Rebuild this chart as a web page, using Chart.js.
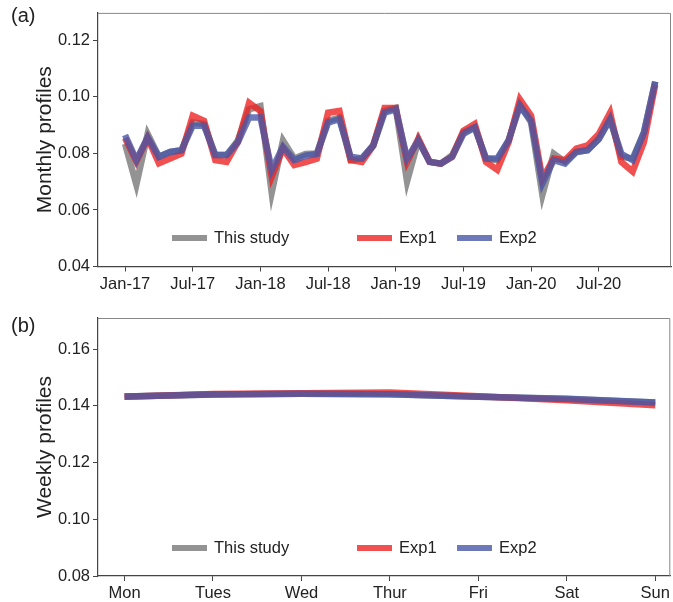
<!DOCTYPE html>
<html>
<head>
<meta charset="utf-8">
<script src="https://cdn.jsdelivr.net/npm/chart.js@4.4.1/dist/chart.umd.min.js"></script>
<style>
  body { margin: 0; background: #fff; font-family: "Liberation Sans", Arial, sans-serif; }
  #wrap { position: relative; width: 673px; height: 602px; }
  .panel { position: absolute; left: 0; width: 673px; }
  .tag { position: absolute; left: 11px; font-size: 20px; color: #222; }
  .legend { position: absolute; left: 0; width: 673px; height: 20px; font-size: 16.5px; color: #222; }
  .legend span.item { position: absolute; top: 0; white-space: nowrap; line-height: 20px; }
  .legend i { display: inline-block; width: 35px; height: 6px; vertical-align: middle; margin-right: 7px; position: relative; top: -1px; }
</style>
</head>
<body>
<div id="wrap">
  <div class="panel" style="top:0;height:300px"><canvas id="monthly"></canvas></div>
  <div class="panel" style="top:300px;height:302px"><canvas id="weekly"></canvas></div>
  <div class="tag" style="top:4px">(a)</div>
  <div class="tag" style="top:314px">(b)</div>
  <div class="legend" id="legendA" style="top:227px"></div>
  <div class="legend" id="legendB" style="top:537px"></div>
</div>
<script>
var months = ['Jan-17','Feb-17','Mar-17','Apr-17','May-17','Jun-17','Jul-17','Aug-17','Sep-17','Oct-17','Nov-17','Dec-17',
              'Jan-18','Feb-18','Mar-18','Apr-18','May-18','Jun-18','Jul-18','Aug-18','Sep-18','Oct-18','Nov-18','Dec-18',
              'Jan-19','Feb-19','Mar-19','Apr-19','May-19','Jun-19','Jul-19','Aug-19','Sep-19','Oct-19','Nov-19','Dec-19',
              'Jan-20','Feb-20','Mar-20','Apr-20','May-20','Jun-20','Jul-20','Aug-20','Sep-20','Oct-20','Nov-20','Dec-20'];
var monthTicks = ['Jan-17','Jul-17','Jan-18','Jul-18','Jan-19','Jul-19','Jan-20','Jul-20'];

var thisStudyMonthly = [0.0834,0.0690,0.0869,0.0788,0.0805,0.0811,0.0909,0.0904,0.0794,0.0794,0.0846,0.0956,
                        0.0967,0.0661,0.0846,0.0782,0.0798,0.0800,0.0915,0.0927,0.0776,0.0782,0.0828,0.0950,
                        0.0961,0.0701,0.0846,0.0770,0.0764,0.0794,0.0875,0.0892,0.0782,0.0776,0.0846,0.0973,
                        0.0909,0.0653,0.0799,0.0770,0.0805,0.0811,0.0851,0.0921,0.0788,0.0782,0.0874,0.1054];
var exp1Monthly = [0.0854,0.0771,0.0854,0.0765,0.0782,0.0799,0.0933,0.0915,0.0776,0.0770,0.0840,0.0979,
                   0.0950,0.0718,0.0817,0.0759,0.0769,0.0781,0.0944,0.0950,0.0776,0.0770,0.0828,0.0961,
                   0.0961,0.0770,0.0852,0.0770,0.0764,0.0788,0.0880,0.0904,0.0770,0.0742,0.0840,0.0991,
                   0.0933,0.0711,0.0782,0.0776,0.0817,0.0828,0.0869,0.0944,0.0770,0.0736,0.0840,0.1042];
var exp2Monthly = [0.0865,0.0776,0.0857,0.0788,0.0805,0.0811,0.0898,0.0898,0.0794,0.0794,0.0840,0.0927,
                   0.0927,0.0742,0.0823,0.0776,0.0792,0.0798,0.0909,0.0921,0.0788,0.0782,0.0828,0.0944,
                   0.0956,0.0782,0.0846,0.0770,0.0764,0.0788,0.0869,0.0892,0.0782,0.0782,0.0846,0.0968,
                   0.0916,0.0694,0.0776,0.0764,0.0805,0.0811,0.0851,0.0921,0.0799,0.0776,0.0874,0.1054];
var monthlyYTicks = [0.04, 0.06, 0.08, 0.10, 0.12];

var days = ['Mon','Tues','Wed','Thur','Fri','Sat','Sun'];
var thisStudyWeekly = [0.1433,0.1440,0.1443,0.1441,0.1432,0.1424,0.1412];
var exp1Weekly      = [0.1432,0.1442,0.1445,0.1447,0.1434,0.1420,0.1402];
var exp2Weekly      = [0.1433,0.1440,0.1443,0.1441,0.1432,0.1425,0.1412];
var weeklyYTicks = [0.08, 0.10, 0.12, 0.14, 0.16];

var seriesNames = ['This study', 'Exp1', 'Exp2'];
var seriesColors = ['rgba(128,128,128,0.85)', 'rgba(238,36,36,0.8)', 'rgba(72,88,168,0.8)'];

var tickFont = { family: "Liberation Sans", size: 16.5 };
var axisColor = '#444';

// draws the top and right edges of the box
var framePlugin = {
    id: 'frame',
    afterDraw: function(chart) {
        var a = chart.chartArea, ctx = chart.ctx;
        ctx.save();
        ctx.strokeStyle = '#888';
        ctx.lineWidth = 1;
        ctx.beginPath();
        ctx.moveTo(a.left, a.top + 0.5);
        ctx.lineTo(a.right - 0.5, a.top + 0.5);
        ctx.lineTo(a.right - 0.5, a.bottom);
        ctx.stroke();
        ctx.restore();
    }
};

function toPoints(values) {
    return values.map(function(v, i) { return { x: i, y: v }; });
}

function makeDatasets(series) {
    return series.map(function(values, k) {
        return {
            label: seriesNames[k],
            data: toPoints(values),
            borderColor: seriesColors[k],
            backgroundColor: seriesColors[k],
            borderWidth: 6.5,
            pointRadius: 0,
            fill: false,
            lineTension: 0,
            order: series.length - 1 - k   // later series on top
        };
    });
}

function drawProfileChart(id, series, xLabels, xTickIdx, xMin, xMax, yTicks, yMin, yMax, yTitle, padTop, xHeight) {
    var ctx = document.getElementById(id).getContext('2d');
    return new Chart(ctx, {
        type: 'line',
        data: { datasets: makeDatasets(series) },
        options: {
            responsive: true,
            maintainAspectRatio: false,
            animation: false,
            layout: { padding: { top: padTop, right: 2, left: 0, bottom: 0 } },
            plugins: {
                legend: { display: false },
                tooltip: { enabled: false }
            },
            scales: {
                x: {
                    type: 'linear',
                    min: xMin,
                    max: xMax,
                    afterFit: function(scale) { scale.height = xHeight; },
                    afterBuildTicks: function(scale) {
                        scale.ticks = xTickIdx.map(function(v) { return { value: v }; });
                    },
                    border: { color: axisColor, width: 1.2 },
                    grid: { drawOnChartArea: false, drawTicks: true, tickLength: 5, color: axisColor },
                    ticks: {
                        autoSkip: false,
                        maxRotation: 0,
                        padding: 3,
                        color: '#222',
                        font: tickFont,
                        callback: function(v) { return xLabels[v]; }
                    }
                },
                y: {
                    min: yMin,
                    max: yMax,
                    afterFit: function(scale) { scale.width = 98; },
                    afterBuildTicks: function(scale) {
                        scale.ticks = yTicks.map(function(v) { return { value: v }; });
                    },
                    border: { color: axisColor, width: 1.2 },
                    grid: { drawOnChartArea: false, drawTicks: true, tickLength: 5, color: axisColor },
                    ticks: {
                        padding: 3,
                        color: '#222',
                        font: tickFont,
                        callback: function(v) { return v.toFixed(2); }
                    },
                    title: {
                        display: true,
                        text: yTitle,
                        color: '#222',
                        padding: { top: 33, bottom: 0 },
                        font: { family: "Liberation Sans", size: 21 }
                    }
                }
            }
        },
        plugins: [framePlugin]
    });
}

function buildLegend(id) {
    var lefts = [172, 357, 457];
    var html = '';
    seriesNames.forEach(function(name, k) {
        html += '<span class="item" style="left:' + lefts[k] + 'px"><i style="background:' + seriesColors[k] + '"></i>' + name + '</span>';
    });
    document.getElementById(id).innerHTML = html;
}

var monthIdx = monthTicks.map(function(m) { return months.indexOf(m); });
var monthLabelAt = {};
months.forEach(function(m, i) { monthLabelAt[i] = m; });

drawProfileChart('monthly', [thisStudyMonthly, exp1Monthly, exp2Monthly], monthLabelAt, monthIdx,
    -2.4, 48.4, monthlyYTicks, 0.04, 0.1297, 'Monthly profiles', 8, 33.5);

var dayLabelAt = {};
days.forEach(function(d, i) { dayLabelAt[i] = d; });
drawProfileChart('weekly', [thisStudyWeekly, exp1Weekly, exp2Weekly], dayLabelAt, days.map(function(d, i) { return i; }),
    -0.3, 6.17, weeklyYTicks, 0.08, 0.171, 'Weekly profiles', 18, 26);

buildLegend('legendA');
buildLegend('legendB');
</script>
</body>
</html>
